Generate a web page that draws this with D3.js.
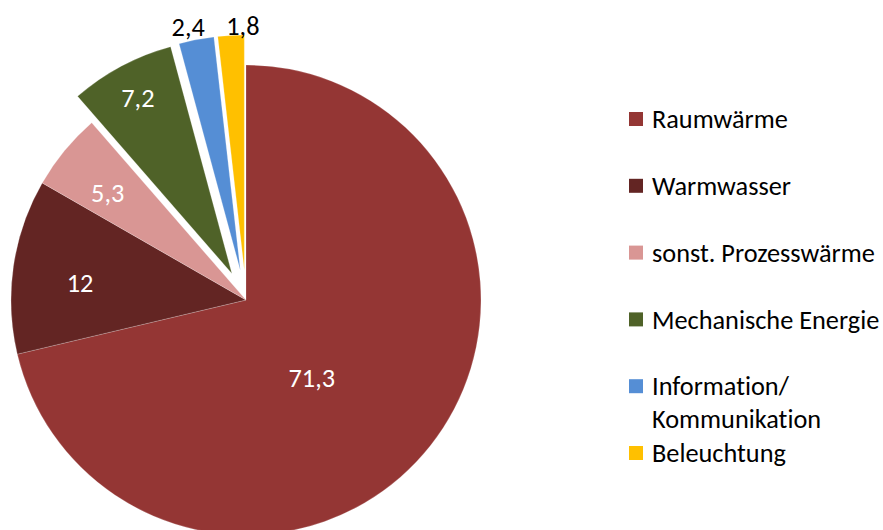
<!DOCTYPE html>
<html>
<head>
<meta charset="utf-8">
<script src="https://cdn.jsdelivr.net/npm/d3@7"></script>
<style>
  body { margin: 0; background: #fff; }
  text { font-family: Carlito, Calibri, "Open Sans", sans-serif; font-variant-ligatures: none; }
</style>
</head>
<body>
<svg id="chart" width="883" height="530"></svg>
<script>
// Anteile am Energieverbrauch (%)
const categories = ["Raumwärme", "Warmwasser", "sonst. Prozesswärme", "Mechanische Energie", "Information/\nKommunikation", "Beleuchtung"];
const values = [71.3, 12, 5.3, 7.2, 2.4, 1.8];
const valueLabels = ["71,3", "12", "5,3", "7,2", "2,4", "1,8"];
const colors = ["#943634", "#632523", "#D99694", "#4F6228", "#558ED5", "#FFC000"];
const exploded = [false, false, false, true, true, true];

const data = categories.map((c, i) => ({ name: c, value: values[i], label: valueLabels[i], color: colors[i], explode: exploded[i] }));

const svg = d3.select("#chart");
const cx = 246, cy = 300, radius = 235;
const explodeDist = 30;
const fontSize = 26.3;

// label placement: radius factor, angle shift (deg), text colour
const labelPos = [
    { r: 0.434, shift: 11.5, fill: "#fff" },
    { r: 0.71, shift: -2.5, fill: "#fff" },
    { r: 0.745, shift: -1.6, fill: "#fff" },
    { r: 0.85, shift: 0, fill: "#fff" },
    { r: 1.06, shift: -1.3, fill: "#000" },
    { r: 1.04, shift: 2.9, fill: "#000" }
];

const pie = d3.pie().value(d => d.value).sort(null);
const arc = d3.arc().innerRadius(0).outerRadius(radius);
const arcs = pie(data);

const pieG = svg.append("g").attr("transform", `translate(${cx},${cy})`);

const mid = d => (d.startAngle + d.endAngle) / 2;
const offset = d => d.data.explode ? [Math.sin(mid(d)) * explodeDist, -Math.cos(mid(d)) * explodeDist] : [0, 0];

pieG.selectAll(".slice")
    .data(arcs)
    .enter()
    .append("path")
    .attr("class", "slice")
    .attr("d", arc)
    .attr("transform", d => `translate(${offset(d)})`)
    .attr("fill", d => d.data.color)
    .attr("stroke", "#fff")
    .attr("stroke-opacity", 0.4)
    .attr("stroke-width", 0.5);

// data labels
pieG.selectAll(".value-label")
    .data(arcs)
    .enter()
    .append("text")
    .attr("class", "value-label")
    .attr("transform", (d, i) => {
        const p = labelPos[i];
        const a = mid(d) + p.shift * Math.PI / 180;
        const o = offset(d);
        return `translate(${o[0] + Math.sin(a) * radius * p.r},${o[1] - Math.cos(a) * radius * p.r})`;
    })
    .attr("text-anchor", "middle")
    .attr("dy", "0.35em")
    .style("font-size", fontSize + "px")
    .attr("fill", (d, i) => labelPos[i].fill)
    .text(d => d.data.label);

// legend
const legend = svg.append("g").attr("class", "legend").attr("transform", "translate(629,119)");
const legendStep = 66.8;
const lineHeight = 33;

const items = legend.selectAll(".legend-item")
    .data(data)
    .enter()
    .append("g")
    .attr("class", "legend-item")
    .attr("transform", (d, i) => `translate(0,${i * legendStep})`);

items.append("rect")
    .attr("x", 0)
    .attr("y", -7)
    .attr("width", 14)
    .attr("height", 14)
    .attr("fill", d => d.color);

items.append("text")
    .attr("x", 23)
    .attr("y", 0)
    .style("font-size", fontSize + "px")
    .attr("fill", "#000")
    .each(function (d) {
        const t = d3.select(this);
        d.name.split("\n").forEach((line, k) => {
            t.append("tspan")
                .attr("x", 23)
                .attr("y", k * lineHeight)
                .attr("dy", "0.35em")
                .text(line);
        });
    });
</script>
</body>
</html>
